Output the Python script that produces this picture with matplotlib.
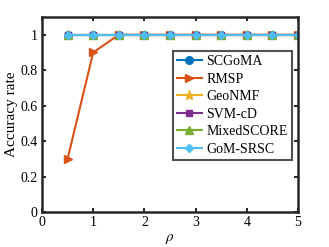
import numpy as np
import matplotlib
matplotlib.use('Agg')
from matplotlib import pyplot as plt

plt.rcParams['font.family'] = 'Liberation Serif'
plt.rcParams['mathtext.fontset'] = 'stix'

rho = [0.5, 1, 1.5, 2, 2.5, 3, 3.5, 4, 4.5, 5]
scgoma = [1, 1, 1, 1, 1, 1, 1, 1, 1, 1]
rmsp = [0.3, 0.9, 1, 1, 1, 1, 1, 1, 1, 1]
geonmf = [1, 1, 1, 1, 1, 1, 1, 1, 1, 1]
svmcd = [1, 1, 1, 1, 1, 1, 1, 1, 1, 1]
mixedscore = [1, 1, 1, 1, 1, 1, 1, 1, 1, 1]
gomsrsc = [1, 1, 1, 1, 1, 1, 1, 1, 1, 1]

fig = plt.figure(figsize=(3.29, 2.47), dpi=100)
ax = fig.add_axes([42/329, 1-212/247, 256/329, 195/247])

ms = 5.5
ax.plot(rho, scgoma, '-o', color='#0072BD', lw=1.5, ms=ms, label='SCGoMA')
ax.plot(rho, rmsp, '->', color='#D95319', lw=1.5, ms=ms, label='RMSP')
ax.plot(rho, geonmf, '-*', color='#EDB120', lw=1.5, ms=ms+1, label='GeoNMF')
ax.plot(rho, svmcd, '-s', color='#7E2F8E', lw=1.5, ms=ms-1, label='SVM-cD')
ax.plot(rho, mixedscore, '-^', color='#77AC30', lw=1.5, ms=ms, label='MixedSCORE')
ax.plot(rho, gomsrsc, '-D', color='#4DBEEE', lw=1.5, ms=ms-1, label='GoM-SRSC')

ax.set_xlim(0, 5)
ax.set_ylim(0, 1.1)
ax.set_xticks([0, 1, 2, 3, 4, 5])
ax.set_yticks([0, 0.2, 0.4, 0.6, 0.8, 1])
ax.set_yticklabels(['0', '0.2', '0.4', '0.6', '0.8', '1'])
ax.tick_params(direction='in', length=3, width=1.2, top=True, right=True, labelsize=10, pad=3)
for s in ax.spines.values():
    s.set_linewidth(1.8)
    s.set_color('#262626')
ax.set_xlabel(r'$\rho$', fontsize=11, labelpad=2)
ax.set_ylabel('Accuracy rate', fontsize=11, labelpad=2)

leg = ax.legend(loc='upper right', bbox_to_anchor=(0.975, 0.825), fontsize=10,
                frameon=True, fancybox=False, handlelength=1.8, handletextpad=0.3,
                borderpad=0.3, labelspacing=0.32, borderaxespad=0)
leg.get_frame().set_edgecolor('#262626')
leg.get_frame().set_linewidth(1.5)

fig.savefig('out.png', dpi=100)
